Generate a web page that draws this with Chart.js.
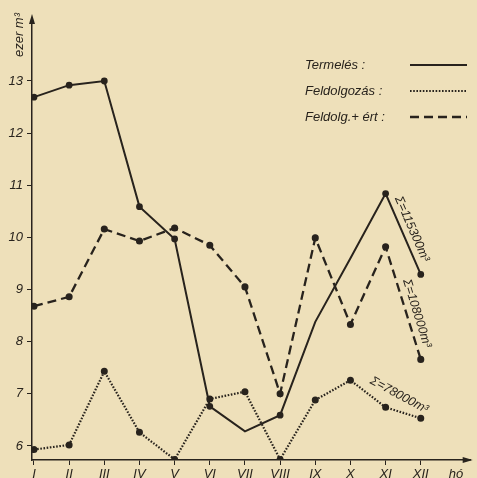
<!DOCTYPE html>
<html>
<head>
<meta charset="utf-8">
<script src="https://cdn.jsdelivr.net/npm/chart.js@4.4.1/dist/chart.umd.min.js"></script>
<style>
  html, body { margin: 0; padding: 0; background: #eee0ba; }
  #wrap { width: 477px; height: 478px; }
</style>
</head>
<body>
<div id="wrap"><canvas id="chart" width="477" height="478"></canvas></div>
<script>
// months, and the "hó" label at the end of the axis
const months = ['I', 'II', 'III', 'IV', 'V', 'VI', 'VII', 'VIII', 'IX', 'X', 'XI', 'XII'];
const xLabels = months.concat(['hó']);
const yTicks = [6, 7, 8, 9, 10, 11, 12, 13];

// ezer m3 per month
const termeles = [12.69, 12.92, 13.0, 10.59, 9.97, 6.76, 6.28, 6.59, 8.38, 9.6, 10.84, 9.29];
const feldolgozas = [5.93, 6.02, 7.43, 6.26, 5.74, 6.9, 7.04, 5.74, 6.88, 7.26, 6.74, 6.53];
const feldolgErt = [8.68, 8.86, 10.16, 9.93, 10.18, 9.85, 9.05, 7.0, 9.99, 8.33, 9.82, 7.66];

const seriesNames = ['Termelés :', 'Feldolgozás :', 'Feldolg.+ ért :'];
const sums = ['Σ=115300m³', 'Σ=108000m³', 'Σ=78000m³'];

const ink = '#28231d';
const paper = '#eee0ba';
const family = '"Liberation Sans", "DejaVu Sans", sans-serif';
const font = 'italic 13px ' + family;

const toPoints = arr => arr.map((v, i) => ({ x: i + 1, y: v }));

let chartData = {
    datasets: [{
        label: seriesNames[0],
        data: toPoints(termeles),
        borderColor: ink,
        backgroundColor: ink,
        borderWidth: 2,
        pointRadius: [2.4, 2.4, 2.4, 2.4, 2.4, 2.4, 0, 2.4, 0, 0, 2.4, 2.4],
        borderDash: []
    }, {
        label: seriesNames[1],
        data: toPoints(feldolgozas),
        borderColor: ink,
        backgroundColor: ink,
        borderWidth: 2.2,
        pointRadius: 2.4,
        borderDash: [1.6, 1.6]
    }, {
        label: seriesNames[2],
        data: toPoints(feldolgErt),
        borderColor: ink,
        backgroundColor: ink,
        borderWidth: 2.3,
        pointRadius: 2.4,
        borderDash: [9, 5]
    }]
};

// draws paper, arrows, legend, sum notes and the y title
const decor = {
    id: 'decor',
    beforeDraw(chart) {
        const c = chart.ctx;
        c.save();
        c.fillStyle = paper;
        c.fillRect(0, 0, chart.width, chart.height);
        c.restore();
    },
    afterDraw(chart) {
        const c = chart.ctx;
        const a = chart.chartArea;
        const xs = chart.scales.x;
        const ys = chart.scales.y;
        c.save();
        c.fillStyle = ink;
        c.strokeStyle = ink;

        // axis arrows
        c.beginPath();
        c.moveTo(a.left, a.top - 6);
        c.lineTo(a.left - 3, a.top + 4);
        c.lineTo(a.left + 3, a.top + 4);
        c.closePath();
        c.fill();
        c.beginPath();
        c.moveTo(a.right + 2, a.bottom);
        c.lineTo(a.right - 8, a.bottom - 3);
        c.lineTo(a.right - 8, a.bottom + 3);
        c.closePath();
        c.fill();

        // y title
        c.save();
        c.translate(19, 35);
        c.rotate(-Math.PI / 2);
        c.font = 'italic 13px ' + family;
        c.textAlign = 'center';
        c.textBaseline = 'middle';
        c.fillText('ezer m³', 0, 0);
        c.restore();

        // legend: text, then a line sample
        c.font = font;
        c.textBaseline = 'middle';
        c.textAlign = 'left';
        chart.data.datasets.forEach((ds, i) => {
            const y = 65 + i * 26;
            c.fillText(ds.label, 305, y);
            c.save();
            c.lineWidth = ds.borderWidth;
            c.setLineDash(ds.borderDash);
            c.beginPath();
            c.moveTo(410, y);
            c.lineTo(467, y);
            c.stroke();
            c.restore();
        });

        // sums written along the last segments
        const note = (text, arr, from, to, along, normal) => {
            const x1 = xs.getPixelForValue(from + 1), y1 = ys.getPixelForValue(arr[from]);
            const x2 = xs.getPixelForValue(to + 1), y2 = ys.getPixelForValue(arr[to]);
            const ang = Math.atan2(y2 - y1, x2 - x1);
            const mx = (x1 + x2) / 2, my = (y1 + y2) / 2;
            c.save();
            c.translate(mx, my);
            c.rotate(ang);
            c.font = 'italic 12.5px ' + family;
            c.textAlign = 'center';
            c.textBaseline = 'middle';
            c.fillText(text, along, -normal);
            c.restore();
        };
        note(sums[0], termeles, 10, 11, -1, 10);
        note(sums[1], feldolgErt, 10, 11, 14, 10);
        note(sums[2], feldolgozas, 9, 11, 10, 10);

        c.restore();
    }
};

new Chart(document.querySelector('#chart'), {
    type: 'line',
    data: chartData,
    options: {
        responsive: false,
        devicePixelRatio: 1,
        animation: false,
        layout: { padding: { left: 0, right: 2, top: 20, bottom: 0 } },
        plugins: { legend: { display: false }, tooltip: { enabled: false } },
        elements: { line: { tension: 0 } },
        scales: {
            x: {
                type: 'linear',
                min: 0.944,
                max: 13.42,
                afterBuildTicks: scale => { scale.ticks = xLabels.map((l, i) => ({ value: i + 1 })); },
                afterFit: scale => { scale.height = 18; },
                ticks: {
                    autoSkip: false,
                    maxRotation: 0,
                    padding: 2,
                    color: ink,
                    font: { family: family, size: 13, style: 'italic' },
                    callback: v => xLabels[v - 1]
                },
                grid: {
                    drawOnChartArea: false,
                    tickLength: 5,
                    color: ctx => (ctx.tick && ctx.tick.value === 13) ? 'rgba(0,0,0,0)' : ink
                },
                border: { color: ink, width: 1.5 }
            },
            y: {
                min: 5.73,
                max: 14.17,
                afterBuildTicks: scale => { scale.ticks = yTicks.map(v => ({ value: v })); },
                afterFit: scale => { scale.width = 32; },
                ticks: {
                    padding: 4,
                    color: ink,
                    font: { family: family, size: 13, style: 'italic' }
                },
                grid: { drawOnChartArea: false, tickLength: 5, color: ink },
                border: { color: ink, width: 1.5 }
            }
        }
    },
    plugins: [decor]
});
</script>
</body>
</html>
